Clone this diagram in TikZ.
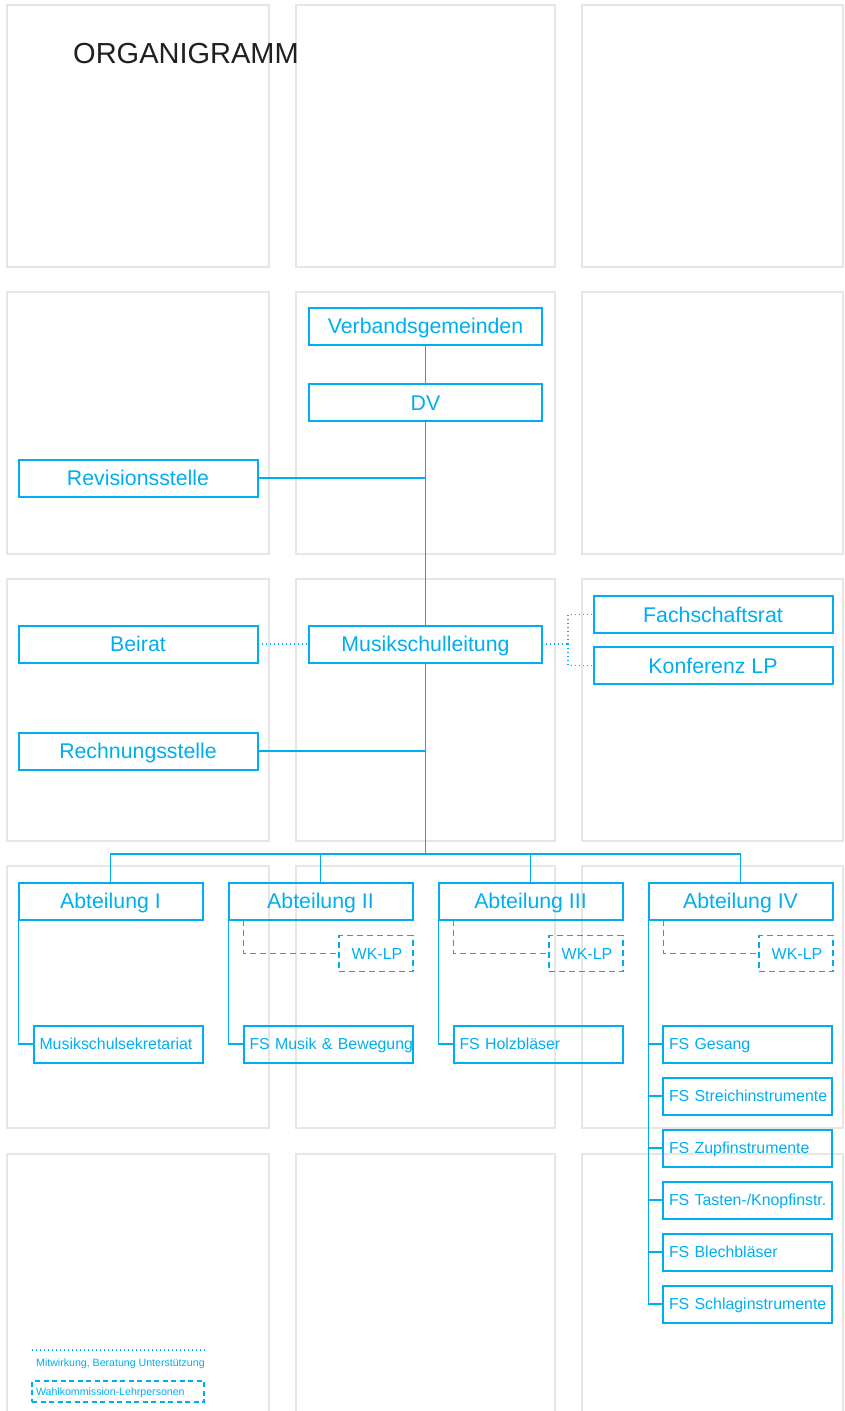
\documentclass[tikz,border=0pt]{standalone}
\usepackage{fontspec}
\setmainfont{Liberation Sans}
\usetikzlibrary{positioning}

\definecolor{msblue}{RGB}{0,174,239}
\definecolor{gridgray}{RGB}{230,230,230}
\definecolor{titlegray}{RGB}{35,31,32}

\begin{document}
\begin{tikzpicture}[x=1pt,y=-1pt]
\tikzstyle{box}=[draw=msblue,line width=2pt,text=msblue,minimum height=37pt,inner sep=0pt,outer sep=0pt,text height=15.2pt,text depth=0pt,font=\fontsize{21.3}{25}\selectfont]
\tikzstyle{wide}=[box,minimum width=239pt]
\tikzstyle{mid}=[box,minimum width=233pt]
\tikzstyle{abt}=[box,minimum width=184pt]
\tikzstyle{fs}=[box,text width=157pt,inner xsep=6pt,align=left,text height=11.4pt,font=\fontsize{15.9}{18}\selectfont]
\tikzstyle{wk}=[box,dash pattern=on 6pt off 4pt,line width=1.6pt,minimum width=74pt,minimum height=36pt,text height=11.5pt,font=\fontsize{16}{19}\selectfont]
\tikzstyle{conn}=[draw=msblue,line width=1.6pt]
\tikzstyle{dotline}=[draw=msblue,line width=1.3pt,dash pattern=on 1.3pt off 2.7pt]
\tikzstyle{wkline}=[draw=msblue,line width=1.8pt,dash pattern=on 6pt off 4pt]
\useasboundingbox (0,0) rectangle (844,1411);
% raster
\foreach \x/\w in {7/262,296/259,582/261}
  \foreach \y in {5,292,579,866,1154}
    \draw[gridgray,line width=2pt] (\x,\y) rectangle ++(\w,262);
\node[anchor=base west,inner sep=0pt,text=titlegray,font=\fontsize{29}{34}\selectfont] (title) at (73,63) {ORGANIGRAMM};
% oben
\node[mid] (vg) at (425.5,326) {Verbandsgemeinden};
\node[mid] (dv) at (425.5,402.5) {DV};
\node[wide] (rev) at (138,478) {Revisionsstelle};
\node[mid] (msl) at (425.5,644) {Musikschulleitung};
\node[wide] (beirat) at (138,644) {Beirat};
\node[wide] (fsr) at (713,614.5) {Fachschaftsrat};
\node[wide] (klp) at (713,665.5) {Konferenz LP};
\node[wide] (rech) at (138,751) {Rechnungsstelle};
\coordinate (bar) at (425.5,854);
\draw[conn] (vg) -- (dv);
\draw[conn] (dv) -- (msl);
\draw[conn] (msl) -- (bar);
\draw[conn] (rev.east) -- (rev.east -| dv.south);
\draw[conn] (rech.east) -- (rech.east -| msl.south);
\draw[dotline] (beirat) -- (msl);
\draw[dotline] (msl.east) -- ++(26,0) coordinate (fork);
\draw[dotline] (fork) |- (fsr.west);
\draw[dotline] (fork) |- (klp.west);
% Abteilungen
\foreach \n [count=\i] in {I,II,III,IV} {
  \node[abt] (abt\i) at ({110.5+210*(\i-1)},901) {Abteilung \n};
  \draw[conn] (abt\i.north) |- (bar);
}
\foreach \i in {2,3,4} {
  \node[wk] (wk\i) at ({376+210*(\i-2)},953.5) {\hspace{2pt}WK-LP};
  \draw[wkline] ([xshift=15pt]abt\i.south west) |- (wk\i.west);
}
\node[fs] (sek) at (118,1044) {\mbox{Musikschulsekretariat}};
\node[fs] (fs2) at (328,1044) {\mbox{FS Musik \& Bewegung}};
\node[fs] (fs3) at (538,1044) {\mbox{FS Holzbläser}};
\draw[conn] (abt1.south west) |- (sek.west);
\draw[conn] (abt2.south west) |- (fs2.west);
\draw[conn] (abt3.south west) |- (fs3.west);
\foreach \t [count=\i] in {Gesang,Streichinstrumente,Zupfinstrumente,Tasten-/Knopfinstr.,Blechbläser,Schlaginstrumente} {
  \node[fs] (fs4\i) at (747.5,{992+52*\i}) {\mbox{FS \t}};
  \draw[conn] (abt4.south west) |- (fs4\i.west);
}
% Legende
\coordinate (leg1) at (32,1350);
\coordinate (leg2) at (206,1350);
\draw[dotline] (leg1) -- (leg2);
\node[anchor=west,inner sep=0pt,text=msblue,font=\fontsize{10.6}{13}\selectfont] (legdot) at (36,1364) {Mitwirkung, Beratung Unterstützung};
\node[box,line width=1.4pt,dash pattern=on 5pt off 3.5pt,minimum width=172pt,minimum height=21pt,text width=164pt,inner xsep=4pt,align=left,text height=7.6pt,font=\fontsize{10.6}{13}\selectfont] (legwk) at (118,1391.5) {Wahlkommission-Lehrpersonen};
\end{tikzpicture}
\end{document}
